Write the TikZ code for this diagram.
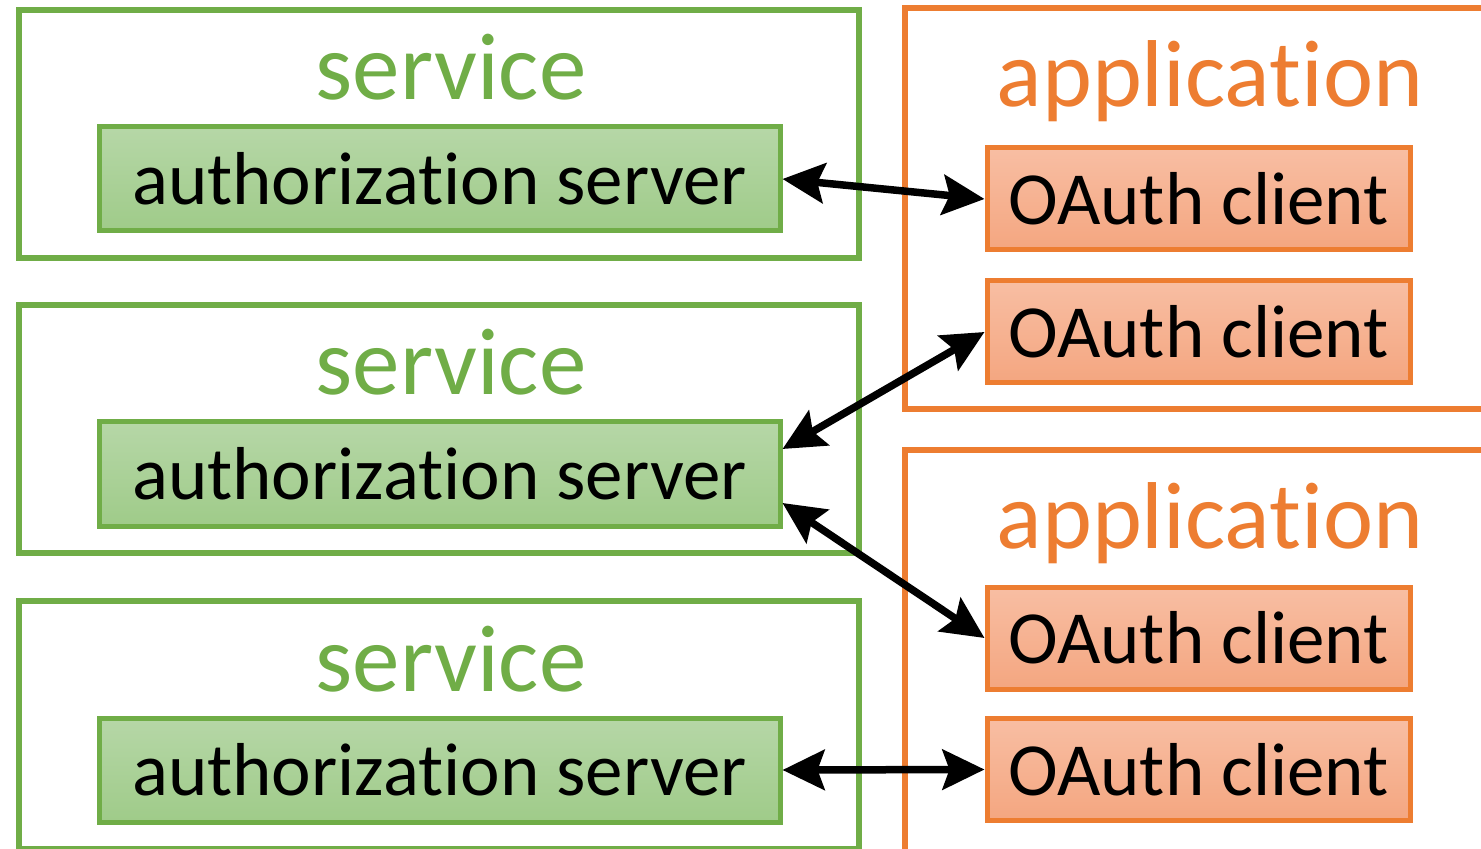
\documentclass[tikz,border=0pt]{standalone}
\usepackage{fontspec}
\setmainfont{Carlito}[RawFeature={-liga;-clig;-dlig;-calt}]
\usetikzlibrary{positioning}
\usetikzlibrary{calc}
\usetikzlibrary{arrows.meta}
\definecolor{green}{RGB}{112,173,71}
\definecolor{greentop}{RGB}{182,215,167}
\definecolor{greenbot}{RGB}{159,203,137}
\definecolor{orange}{RGB}{237,125,49}
\definecolor{orangetop}{RGB}{248,190,163}
\definecolor{orangebot}{RGB}{244,166,128}
% keep t and i apart (no ligature)
\newcommand{\tinolig}{t\kern0pt i}

\begin{document}
\begin{tikzpicture}[x=0.5pt, y=-0.5pt,
    servicebox/.style={draw=green, line width=3pt, minimum width=420pt, minimum height=124pt},
    appbox/.style={draw=orange, line width=3pt, minimum width=307.5pt},
    authbox/.style={draw=green, line width=2.5pt, top color=greentop, bottom color=greenbot,
        minimum width=340.5pt, minimum height=52pt, inner sep=0pt, font=\fontsize{37.5}{40}\selectfont},
    clientbox/.style={draw=orange, line width=2.5pt, top color=orangetop, bottom color=orangebot,
        minimum width=211.5pt, minimum height=51pt, inner sep=0pt, font=\fontsize{37.5}{40}\selectfont},
    title/.style={anchor=base, inner sep=0pt, font=\fontsize{47.5}{50}\selectfont},
    link/.style={>={Stealth[length=21pt, width=20pt, inset=3.5pt]}, <->, line width=3.75pt}]
    \useasboundingbox (0,0) rectangle (1481,849);
    % services
    \foreach \n/\y in {1/0, 2/295, 3/591} {
        \node[servicebox] (service\n) at (439, 134+\y) {};
        \node[title, text=green] (servicelabel\n) at (451, 100+\y) {service};
        \node[authbox] (auth\n) at (439.5, 179+\y) {authoriza\tinolig on server};
    }
    % applications
    \node[appbox, minimum height=200.5pt] (app1) at (1212.5, 208.5) {};
    \node[appbox, minimum height=220pt] (app2) at (1212.5, 670) {};
    \node[title, text=orange] (applabel1) at (1210, 107) {applica\tinolig on};
    \node[title, text=orange] (applabel2) at (1210, 548) {applica\tinolig on};
    \node[clientbox] (client1) at (1198.5, 199) {OAuth client};
    \node[clientbox] (client2) at (1198.5, 332) {OAuth client};
    \node[clientbox] (client3) at (1198.5, 638) {OAuth client};
    \node[clientbox] (client4) at (1198.5, 769.5) {OAuth client};
    % links
    \draw[link] (auth1.east) -- (client1.west);
    \draw[link] ($(auth2.east)+(0,-25)$) -- (client2.west);
    \draw[link] ($(auth2.east)+(0,29)$) -- (client3.west);
    \draw[link] (auth3.east) -- (client4.west);
\end{tikzpicture}
\end{document}
